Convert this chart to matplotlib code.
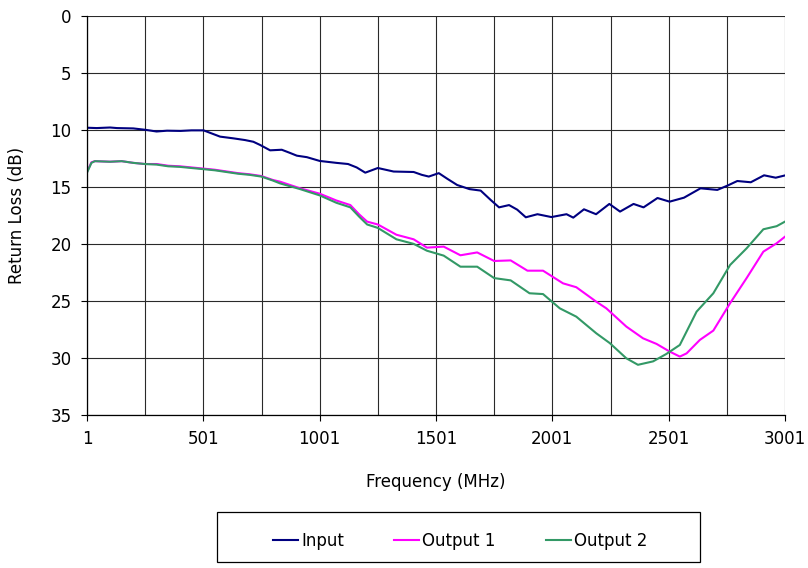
"""Return loss vs frequency for input and two outputs."""

import matplotlib
matplotlib.use("Agg")
import matplotlib.pyplot as plt
from matplotlib.patches import Rectangle

# values
input_freq = [1, 43, 100, 130, 200, 251, 300, 345, 403, 450, 502, 573, 630, 680, 716,
              745, 788, 838, 870, 903, 946, 1001, 1073, 1123, 1160, 1197, 1251, 1319,
              1405, 1440, 1470, 1513, 1550, 1592, 1645, 1693, 1736, 1772, 1815, 1850,
              1887, 1937, 1997, 2062, 2091, 2137, 2189, 2246, 2292, 2350, 2393, 2453,
              2505, 2567, 2638, 2710, 2753, 2796, 2854, 2911, 2961, 3001]
input_rl = [9.82, 9.85, 9.8, 9.85, 9.88, 10.0, 10.15, 10.08, 10.1, 10.05, 10.05, 10.6,
            10.75, 10.9, 11.05, 11.33, 11.8, 11.75, 12.0, 12.27, 12.4, 12.73, 12.9, 13.0,
            13.3, 13.76, 13.35, 13.66, 13.7, 13.95, 14.1, 13.8, 14.3, 14.84, 15.2, 15.33,
            16.15, 16.8, 16.6, 17.0, 17.67, 17.4, 17.65, 17.4, 17.7, 16.97, 17.4, 16.5,
            17.17, 16.5, 16.8, 15.98, 16.3, 15.95, 15.13, 15.27, 14.9, 14.49, 14.6,
            13.99, 14.2, 14.0]

out1_freq = [1, 20, 35, 100, 150, 200, 250, 300, 350, 400, 450, 501, 550, 600, 650, 700,
             750, 800, 831, 917, 1001, 1073, 1133, 1170, 1205, 1251, 1331, 1405, 1462,
             1534, 1606, 1678, 1751, 1822, 1894, 1961, 2047, 2104, 2190, 2233, 2319,
             2391, 2449, 2506, 2549, 2578, 2635, 2693, 2765, 2836, 2908, 2965, 3001]
out1_rl = [13.7, 12.85, 12.75, 12.8, 12.75, 12.9, 13.0, 13.0, 13.15, 13.2, 13.3, 13.4,
           13.5, 13.65, 13.8, 13.9, 14.05, 14.4, 14.55, 15.13, 15.6, 16.2, 16.6, 17.4,
           18.05, 18.3, 19.2, 19.6, 20.33, 20.24, 21.0, 20.75, 21.5, 21.45, 22.35, 22.35,
           23.46, 23.8, 25.07, 25.65, 27.25, 28.28, 28.77, 29.45, 29.88, 29.6, 28.42,
           27.6, 25.2, 23.0, 20.68, 19.95, 19.37]

out2_freq = [1, 20, 35, 100, 150, 200, 250, 300, 350, 400, 450, 501, 550, 600, 650, 700,
             750, 800, 831, 917, 1001, 1073, 1133, 1170, 1205, 1251, 1331, 1405, 1462,
             1534, 1606, 1678, 1751, 1822, 1903, 1961, 2033, 2104, 2190, 2248, 2319,
             2369, 2434, 2491, 2549, 2621, 2693, 2765, 2836, 2908, 2965, 3001]
out2_rl = [13.76, 12.9, 12.75, 12.8, 12.75, 12.9, 13.0, 13.05, 13.2, 13.25, 13.35, 13.45,
           13.55, 13.7, 13.85, 13.95, 14.1, 14.45, 14.7, 15.2, 15.75, 16.4, 16.8, 17.6,
           18.3, 18.6, 19.6, 20.0, 20.6, 21.03, 22.0, 22.0, 23.0, 23.2, 24.33, 24.4,
           25.65, 26.38, 27.84, 28.7, 30.03, 30.6, 30.3, 29.65, 28.86, 25.94, 24.33,
           21.85, 20.39, 18.72, 18.45, 18.05]

series_names = ["Input", "Output 1", "Output 2"]
series_colors = ["#000080", "#FF00FF", "#339966"]

x_major = [1, 501, 1001, 1501, 2001, 2501, 3001]
x_minor = [251, 751, 1251, 1751, 2251, 2751]
y_ticks = [0, 5, 10, 15, 20, 25, 30, 35]

plt.rcParams["font.family"] = ["DejaVu Sans"]
plt.rcParams["font.size"] = 12

fig = plt.figure(figsize=(8.08, 5.68), dpi=100)
ax = fig.add_axes([87 / 808, 1 - 415 / 568, 698 / 808, 399.3 / 568])

for fx, fy, name, col in zip([input_freq, out1_freq, out2_freq],
                             [input_rl, out1_rl, out2_rl], series_names, series_colors):
    ax.plot(fx, fy, color=col, lw=1.5, label=name, solid_joinstyle="round")

ax.set_xlim(1, 3001)
ax.set_ylim(35, 0)
ax.set_xticks(x_major)
ax.set_xticks(x_minor, minor=True)
ax.set_yticks(y_ticks)
ax.tick_params(axis="x", which="minor", length=0)
ax.tick_params(axis="both", which="major", length=4, width=0.8, color="black", pad=7)
ax.grid(True, which="both", color="#2a2a2a", lw=0.8)
ax.set_axisbelow(True)
for side in ("top", "right"):
    ax.spines[side].set_visible(False)
for side in ("left", "bottom"):
    ax.spines[side].set_linewidth(0.9)

ax.set_xlabel("Frequency (MHz)", labelpad=18)
ax.set_ylabel("Return Loss (dB)", labelpad=18)

# legend frame drawn separately so its size matches the original box
fig.patches.append(Rectangle((217 / 808, 1 - 562 / 568), 483 / 808, 50 / 568,
                             transform=fig.transFigure, fill=False, ec="black", lw=0.9))
fig.legend(loc="center", bbox_to_anchor=(460 / 808, 1 - 541 / 568), ncol=3, frameon=False,
           handlelength=1.5, handletextpad=0.2, columnspacing=3.0)

fig.savefig("out.png", dpi=100)
